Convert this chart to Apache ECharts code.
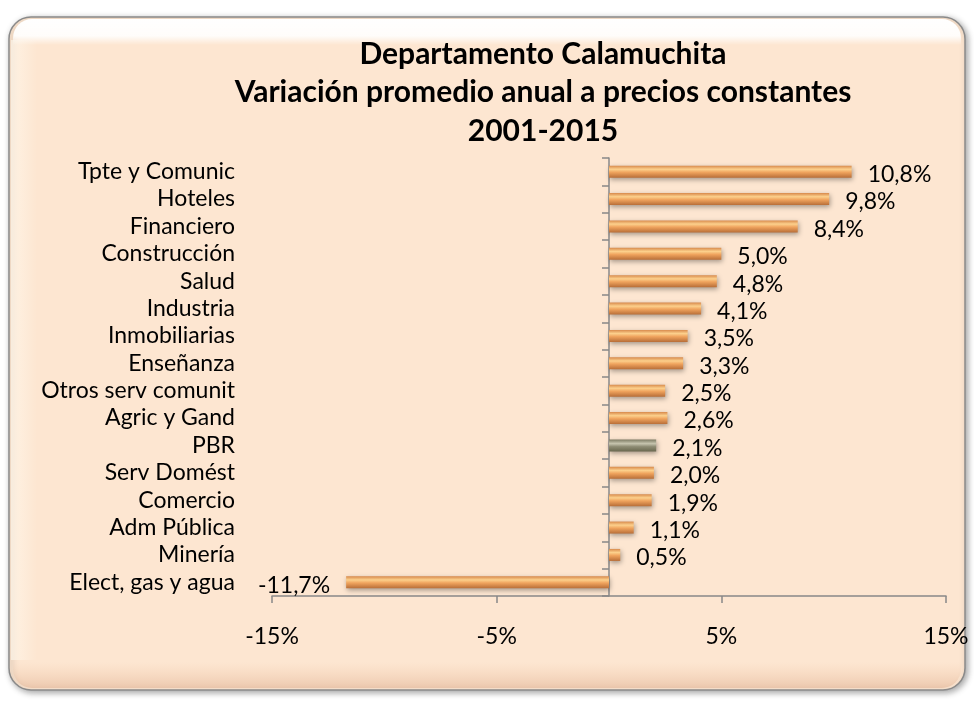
<!DOCTYPE html>
<html><head><meta charset="utf-8">
<script src="https://cdn.jsdelivr.net/npm/echarts@6/dist/echarts.min.js"></script>
<style>html,body{margin:0;padding:0;background:#fff}#c{width:974px;height:704px}</style>
</head><body><div id="c"></div>
<script>
const titleLines = ['Departamento Calamuchita','Variación promedio anual a precios constantes','2001-2015'];
const categories = ['Tpte y Comunic','Hoteles','Financiero','Construcción','Salud','Industria','Inmobiliarias','Enseñanza','Otros serv comunit','Agric y Gand','PBR','Serv Domést','Comercio','Adm Pública','Minería','Elect, gas y agua'];
const values = [10.8,9.8,8.4,5.0,4.8,4.1,3.5,3.3,2.5,2.6,2.1,2.0,1.9,1.1,0.5,-11.7];
const highlight = 'PBR';
const xTicks = {min:-15,max:15,interval:10};

const FONT = 'Lato';
const orange = new echarts.graphic.LinearGradient(0,0,0,1,[
  {offset:0,color:'#d88a4c'},{offset:0.3,color:'#fcd08c'},{offset:0.55,color:'#f0a45e'},{offset:1,color:'#b86e38'}]);
const gray = new echarts.graphic.LinearGradient(0,0,0,1,[
  {offset:0,color:'#7c7a62'},{offset:0.35,color:'#c6c4ae'},{offset:0.6,color:'#8e8c74'},{offset:1,color:'#6a684f'}]);
const fmt = v => v.toFixed(1).replace('.',',') + '%';

const chart = echarts.init(document.getElementById('c'));
chart.setOption({
  backgroundColor:'#fff',
  graphic:[
    {type:'rect',shape:{x:9,y:17,width:956,height:673,r:22},
     style:{fill:'#fde6d1',stroke:'#8a8a8a',lineWidth:1.5,shadowBlur:6,shadowColor:'rgba(0,0,0,0.35)',shadowOffsetX:2,shadowOffsetY:2},z:-10},
    {type:'rect',shape:{x:13,y:19,width:948,height:26,r:[19,19,0,0]},
     style:{fill:new echarts.graphic.LinearGradient(0,0,0,1,[{offset:0,color:'rgba(255,255,255,1)'},{offset:0.65,color:'rgba(255,255,255,0.9)'},{offset:1,color:'rgba(255,255,255,0)'}])},z:-9},
    {type:'rect',shape:{x:11,y:40,width:26,height:620},
     style:{fill:new echarts.graphic.LinearGradient(0,0,1,0,[{offset:0,color:'rgba(255,250,240,0.6)'},{offset:1,color:'rgba(255,250,240,0)'}])},z:-9},
    {type:'rect',shape:{x:13,y:662,width:948,height:26,r:[0,0,19,19]},
     style:{fill:new echarts.graphic.LinearGradient(0,0,0,1,[{offset:0,color:'rgba(240,200,170,0)'},{offset:1,color:'rgba(225,180,150,0.6)'}])},z:-9}
  ],
  title:{text:titleLines.join('\n'),left:538,top:30,textAlign:'center',
    textStyle:{fontFamily:FONT,fontWeight:'bold',fontSize:30,lineHeight:38.5,color:'#000'}},
  grid:{left:272,right:28,top:158,bottom:108,containLabel:false},
  xAxis:{type:'value',min:xTicks.min,max:xTicks.max,interval:xTicks.interval,
    axisLine:{show:true,lineStyle:{color:'#888',width:1.5}},
    axisTick:{show:true,length:7,lineStyle:{color:'#888',width:1.5}},
    splitLine:{show:false},
    axisLabel:{formatter:v=>v+'%',margin:29,fontFamily:FONT,fontSize:23,color:'#000'}},
  yAxis:[
    {type:'category',data:categories,inverse:true,
     axisLine:{show:true,onZero:true,lineStyle:{color:'#888',width:1.5}},
     axisTick:{show:true,interval:0,length:7,lineStyle:{color:'#888',width:1.5}},
     axisLabel:{show:false}},
    {type:'category',data:categories,inverse:true,position:'left',
     axisLine:{show:false,onZero:false},axisTick:{show:false},
     axisLabel:{interval:0,margin:37,padding:[5,0,0,0],fontFamily:FONT,fontSize:23,color:'#000'}}
  ],
  series:[{type:'bar',yAxisIndex:0,barWidth:12,
    data:values.map((v,i)=>({value:v,
      itemStyle:{color:categories[i]===highlight?gray:orange},
      label:{position:v<0?'left':'right'}})),
    itemStyle:{shadowColor:'rgba(0,0,0,0.35)',shadowBlur:5,shadowOffsetY:2,shadowOffsetX:1},
    label:{show:true,distance:16,formatter:p=>fmt(p.value),fontFamily:FONT,fontSize:23,color:'#000',offset:[0,3]}
  }]
});
</script></body></html>
